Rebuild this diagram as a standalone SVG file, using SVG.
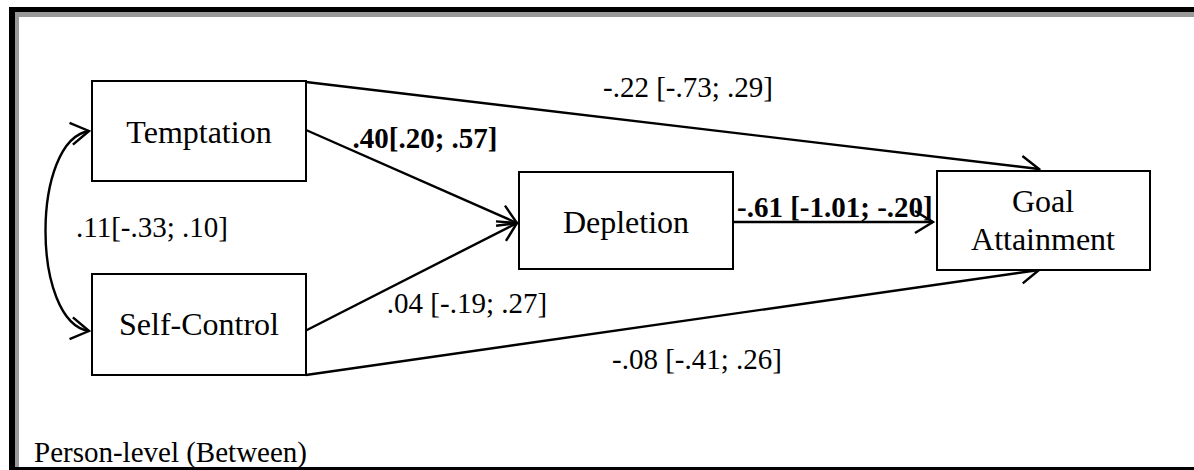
<svg xmlns="http://www.w3.org/2000/svg" width="1194" height="470" viewBox="0 0 1194 470">
<style>
.box{fill:#fff;stroke:#000;stroke-width:2}
.nt{font-family:"Liberation Serif","Times New Roman",serif;font-size:32px;fill:#000;text-anchor:middle}
.lb{font-family:"Liberation Serif","Times New Roman",serif;font-size:29px;fill:#000;text-anchor:middle}
.bd{font-weight:bold}
.ln{fill:none;stroke:#000;stroke-width:2.4}
</style>
<defs>
<marker id="ah" markerUnits="userSpaceOnUse" markerWidth="32" markerHeight="32" refX="21" refY="13" orient="auto-start-reverse">
<path d="M3,2 L21,13 L3,24" fill="none" stroke="#000" stroke-width="2.4"/>
</marker>
</defs>
<rect width="1194" height="470" fill="#fff"/>
<g id="frame">
<rect x="15" y="12" width="1179" height="5" fill="#999"/>
<rect x="15" y="12" width="4" height="455" fill="#999"/>
<rect x="9" y="7" width="1185" height="5" fill="#000"/>
<rect x="9" y="7" width="6" height="463" fill="#000"/>
<rect x="9" y="467" width="1185" height="3" fill="#000"/>
</g>
<g id="connectors">
<path class="ln" d="M306,82 L1039,169" marker-end="url(#ah)"/>
<path class="ln" d="M306,375 L1039,270" marker-end="url(#ah)"/>
<path class="ln" d="M306,130 L517,223" marker-end="url(#ah)"/>
<path class="ln" d="M305,331 L517,223" marker-end="url(#ah)"/>
<path class="ln" d="M733,222 L933,222" marker-end="url(#ah)"/>
<path class="ln" d="M89,131 C31,140 31,322 89,331" marker-start="url(#ah)" marker-end="url(#ah)"/>
</g>
<g id="temptation">
<rect class="box" x="92" y="81" width="214" height="100"/>
<text class="nt" x="199" y="143">Temptation</text>
</g>
<g id="self-control">
<rect class="box" x="92" y="274" width="214" height="101"/>
<text class="nt" x="199" y="335">Self-Control</text>
</g>
<g id="depletion">
<rect class="box" x="519" y="172" width="214" height="97"/>
<text class="nt" x="626" y="233">Depletion</text>
</g>
<g id="goal-attainment">
<rect class="box" x="937" y="171" width="213" height="99"/>
<text class="nt" x="1043" y="212">Goal</text>
<text class="nt" x="1043" y="250">Attainment</text>
</g>
<g id="labels">
<text class="lb" x="688" y="97">-.22 [-.73; .29]</text>
<text class="lb bd" x="425" y="148">.40[.20; .57]</text>
<text class="lb" x="152" y="237">.11[-.33; .10]</text>
<text class="lb" x="467" y="313">.04 [-.19; .27]</text>
<text class="lb" x="697" y="369">-.08 [-.41; .26]</text>
<text class="lb bd" x="737" y="217" style="text-anchor:start">-.61 [-1.01; -.20]</text>
<text class="lb" x="34" y="462" style="text-anchor:start">Person-level (Between)</text>
</g>
</svg>
